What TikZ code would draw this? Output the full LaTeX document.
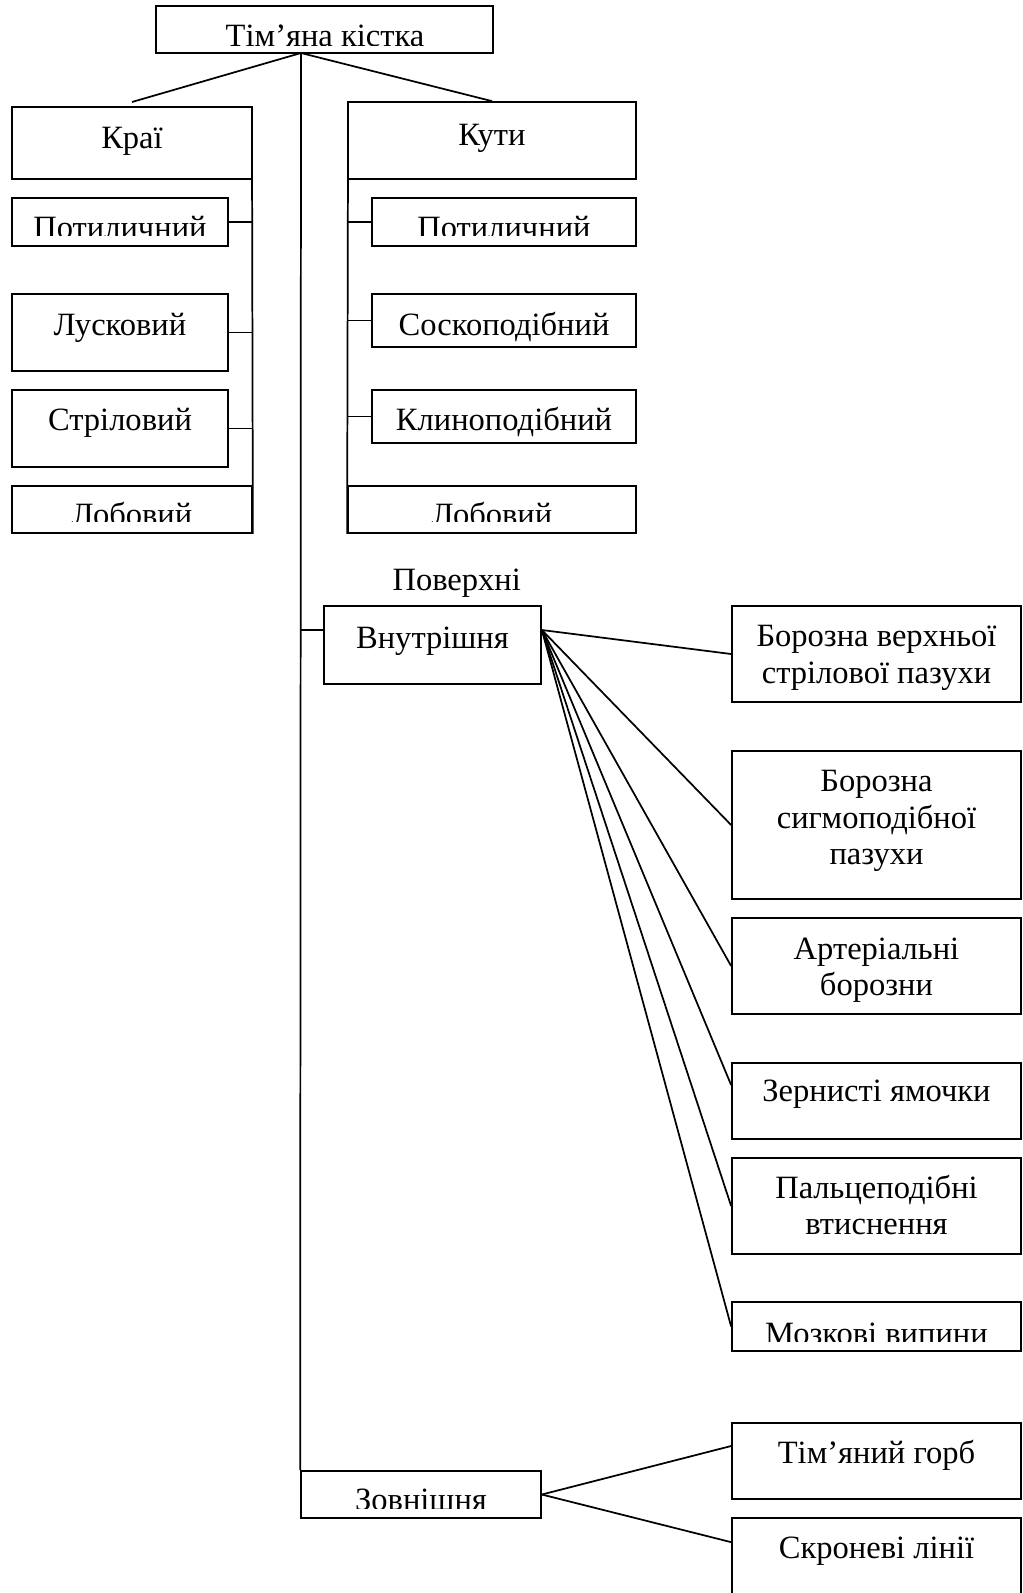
\documentclass[tikz,border=0pt]{standalone}
\usepackage{fontspec}
\setmainfont{Liberation Serif}
\usetikzlibrary{calc}
\begin{document}
\begin{tikzpicture}[x=0.75pt,y=-0.75pt,line width=1.3pt,
  box/.style 2 args={draw, rectangle, inner sep=0pt,
    minimum width=#1*0.75pt, minimum height=#2*0.75pt},
  lbl/.style={anchor=base, inner sep=0pt,
    font=\fontsize{24.4pt}{27.4pt}\selectfont}]
\useasboundingbox (0,0) rectangle (1022,1593);
\clip (0,0) rectangle (1022,1593);

% ---------- frames ----------
\node[box={337}{47}] (top)   at (324.5,29.5) {};
\node[box={240}{72}] (krai)  at (132,143) {};
\node[box={288}{77}] (kuty)  at (492,140.5) {};
\node[box={216}{48}] (pl)    at (120,222) {};
\node[box={216}{77}] (lus)   at (120,332.5) {};
\node[box={216}{77}] (stril) at (120,428.5) {};
\node[box={240}{47}] (lobl)  at (132,509.5) {};
\node[box={264}{48}] (pr)    at (504,222) {};
\node[box={264}{53}] (sosk)  at (504,320.5) {};
\node[box={264}{53}] (klyn)  at (504,416.5) {};
\node[box={288}{47}] (lobr)  at (492,509.5) {};
\node[box={217}{78}] (vnut)  at (432.5,645) {};
\node[box={289}{96}]  (bsin)  at (876.5,654) {};
\node[box={289}{148}] (bsig)  at (876.5,825) {};
\node[box={289}{96}]  (art)   at (876.5,966) {};
\node[box={289}{76}]  (zern)  at (876.5,1101) {};
\node[box={289}{96}]  (palc)  at (876.5,1206) {};
\node[box={289}{49}]  (mozk)  at (876.5,1326.5) {};
\node[box={240}{47}]  (zovn)  at (421,1494.5) {};
\node[box={289}{76}]  (gorb)  at (876.5,1461) {};
\node[box={289}{100}] (skron) at (876.5,1568) {};

% ---------- labels ----------
\begin{scope}
  \clip (top.north west) rectangle ($(top.south east)+(0,-8.5)$);
  \node[lbl] (topt) at (325,46.5) {Тім’яна кістка};
\end{scope}
\node[lbl] (kait) at (132,148) {Краї};
\node[lbl] (kutt) at (492,145) {Кути};
\begin{scope}
  \clip (pl.north west) rectangle ($(pl.south east)+(0,-11)$);
  \node[lbl] (plt) at (120,238) {Потиличний};
\end{scope}
\node[lbl] (lust) at (120,335) {Лусковий};
\node[lbl] (strt) at (120,430.7) {Стріловий};
\begin{scope}
  \clip (lobl.north west) rectangle ($(lobl.south east)+(0,-12)$);
  \node[lbl] (lblt) at (132,525) {Лобовий};
\end{scope}
\begin{scope}
  \clip (pr.north west) rectangle ($(pr.south east)+(0,-11)$);
  \node[lbl] (prt) at (504,238) {Потиличний};
\end{scope}
\node[lbl] (sost) at (504,335) {Соскоподібний};
\node[lbl] (klyt) at (504,430.7) {Клиноподібний};
\begin{scope}
  \clip (lobr.north west) rectangle ($(lobr.south east)+(0,-12)$);
  \node[lbl] (lbrt) at (492,525) {Лобовий};
\end{scope}
\node[lbl] (pov) at (456.7,590) {Поверхні};
\node[lbl] (vnt) at (432.5,648) {Внутрішня};
\node[lbl] (bsit) at (876.5,646.7) {\begin{tabular}[t]{@{}c@{}}Борозна верхньої\\стрілової пазухи\end{tabular}};
\node[lbl] (bsgt) at (876.5,791.7) {\begin{tabular}[t]{@{}c@{}}Борозна\\сигмоподібної\\пазухи\end{tabular}};
\node[lbl] (artt) at (876.5,959.3) {\begin{tabular}[t]{@{}c@{}}Артеріальні\\борозни\end{tabular}};
\node[lbl] (zert) at (876.5,1101.7) {Зернисті ямочки};
\node[lbl] (palt) at (876.5,1198.3) {\begin{tabular}[t]{@{}c@{}}Пальцеподібні\\втиснення\end{tabular}};
\begin{scope}
  \clip (mozk.north west) rectangle ($(mozk.south east)+(0,-10)$);
  \node[lbl] (mozt) at (876.5,1344.8) {Мозкові випини};
\end{scope}
\begin{scope}
  \clip (zovn.north west) rectangle ($(zovn.south east)+(0,-10)$);
  \node[lbl] (zovt) at (421,1510.8) {Зовнішня};
\end{scope}
\node[lbl] (gort) at (876.5,1463.3) {Тім’яний горб};
\node[lbl] (skrt) at (876.5,1558.3) {Скроневі лінії};

% ---------- connectors ----------
\coordinate (hub) at (301,53);
\coordinate (kraiend) at (132,102);
\coordinate (lvtop) at (252,150);
\coordinate (rvtop) at (348,150);
\coordinate (vin)  at ($(vnut.west)+(0,-15)$);
\coordinate (vout) at ($(vnut.east)+(0,-15)$);

\draw (hub) -- (kraiend);
\draw (hub) -- (kuty.north);
\draw (hub) -- (zovn.north west);

\draw (lvtop) -- (lobl.south east);
\foreach \b in {pl,lus,stril} \draw (\b.east) -- (\b.east -| lobl.east);

\draw (rvtop) -- (lobr.south west);
\foreach \b in {pr,sosk,klyn} \draw (\b.west) -- (\b.west -| lobr.west);

\draw (vin) -- (vin -| hub);
\foreach \b in {bsin,bsig,art,palc,mozk} \draw (vout) -- (\b.west);
\draw (vout) -- ($(zern.west)+(0,-16)$);

\draw (zovn.east) -- ($(gorb.west)+(0,-15)$);
\draw (zovn.east) -- ($(skron.north west)+(0,25)$);
\end{tikzpicture}
\end{document}
